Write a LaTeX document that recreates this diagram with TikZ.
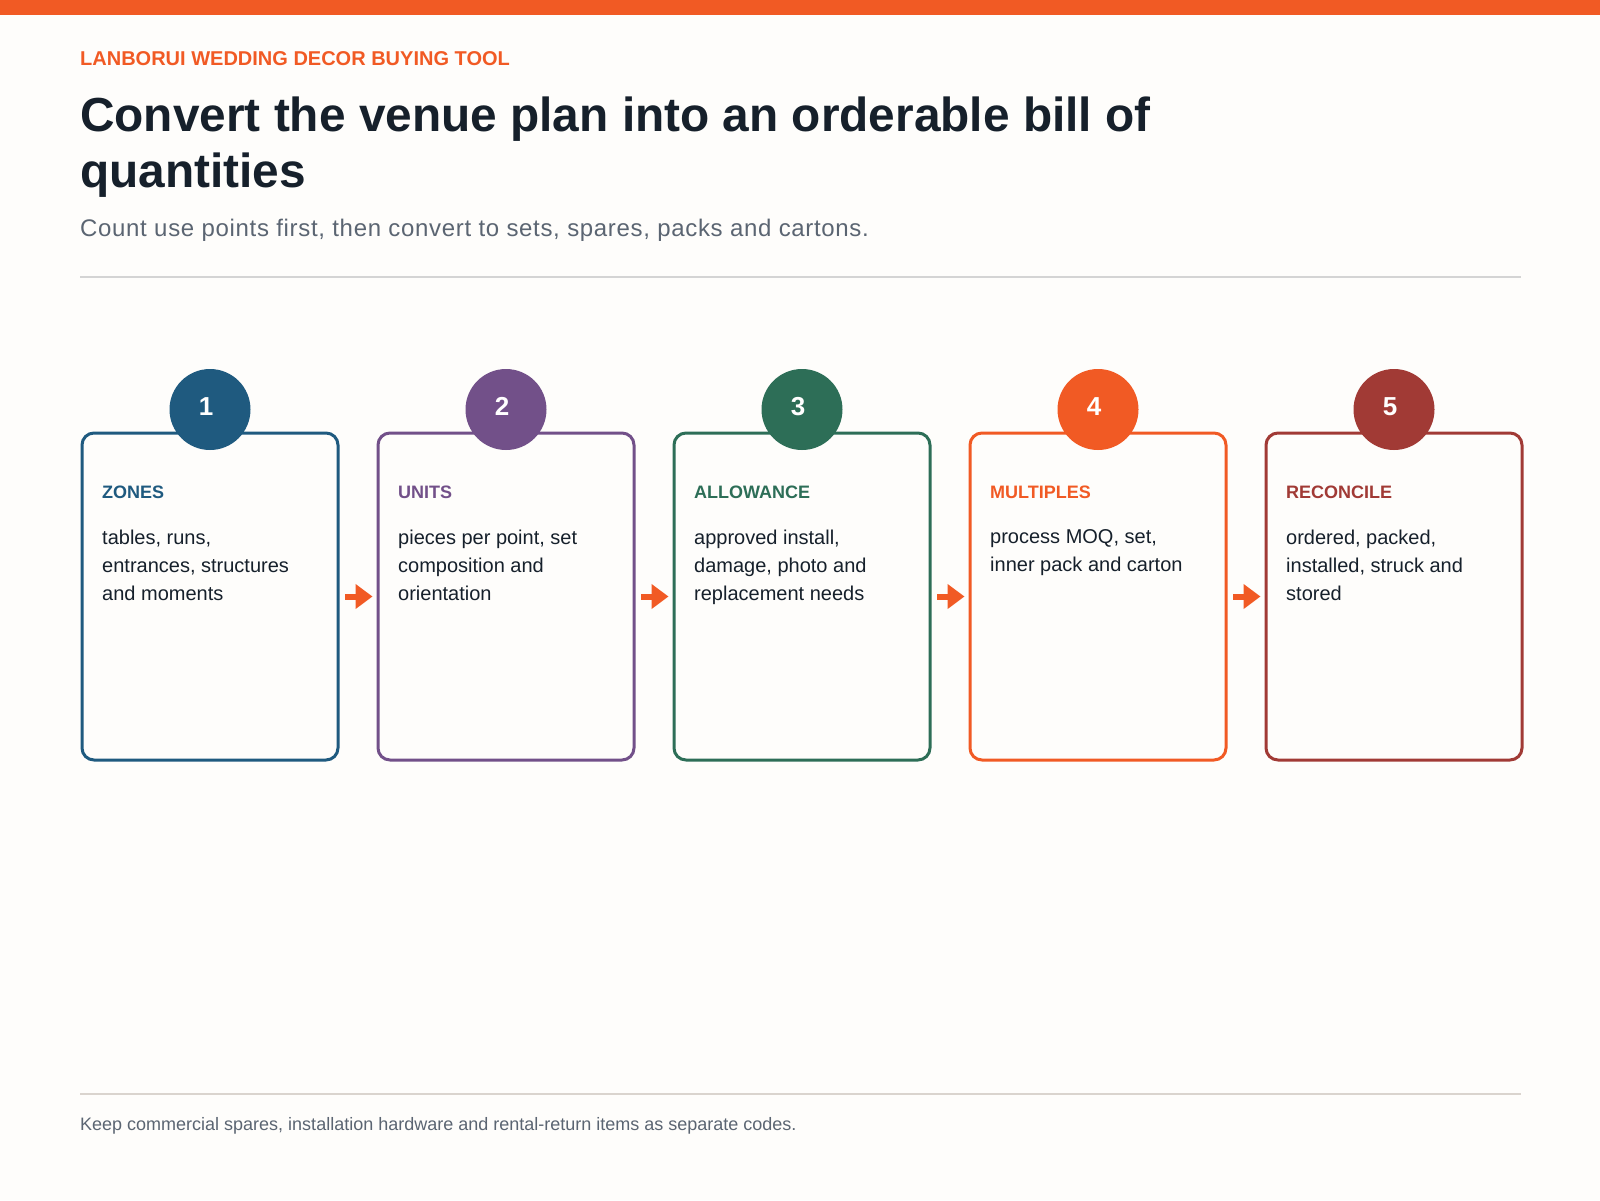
\documentclass[tikz,border=0pt]{standalone}
\usepackage{fontspec}
\setmainfont{Liberation Sans}
\newfontfamily\spacedsans[LetterSpace=2.8]{Liberation Sans}
\usetikzlibrary{arrows.meta}

\definecolor{pagebg}{HTML}{FEFDFB}
\definecolor{brandorange}{HTML}{F15A24}
\definecolor{inkdark}{HTML}{16202B}
\definecolor{inkgrey}{HTML}{5B6572}
\definecolor{rulegrey}{HTML}{D4D4D4}
\definecolor{rulesand}{HTML}{DAD4CE}
\definecolor{stepblue}{HTML}{1F5A7F}
\definecolor{steppurple}{HTML}{725089}
\definecolor{stepgreen}{HTML}{2D6E57}
\definecolor{steporange}{HTML}{F15A24}
\definecolor{stepred}{HTML}{A13A35}

\begin{document}
\begin{tikzpicture}[x=1pt,y=-1pt,
  card/.style={draw, rounded corners=12pt, line width=3pt, minimum width=256pt, minimum height=327pt, inner sep=0pt},
  badge/.style={circle, minimum size=81pt, inner sep=0pt, text=white, text depth=6pt, execute at end node=\kern8pt, font=\fontsize{26}{26}\selectfont\bfseries},
  headtext/.style={anchor=base west, inner sep=0pt, font=\fontsize{18}{22}\selectfont\bfseries},
  bodytext/.style={anchor=north west, inner sep=0pt, align=left, text=inkdark, font=\fontsize{20}{28}\selectfont},
  flowarrow/.style={brandorange, line width=6pt, -{Triangle[length=17pt,width=24pt]}, shorten <=5.5pt, shorten >=4pt}]

% page and top band
\useasboundingbox (0,0) rectangle (1600,1200);
\fill[pagebg] (0,0) rectangle (1600,1200);
\fill[brandorange] (0,0) rectangle (1600,14.7);

% header
\node[anchor=base west, inner sep=0pt, text=brandorange, font=\fontsize{20}{24}\selectfont\bfseries] (eyebrow) at (80,65) {LANBORUI WEDDING DECOR BUYING TOOL};
\node[anchor=north west, inner sep=0pt, align=left, text=inkdark, font=\fontsize{47.8}{56}\selectfont\bfseries] (title) at (80,96.9) {Convert the venue plan into an orderable bill of\\quantities};
\node[anchor=base west, inner sep=0pt, text=inkgrey, font=\spacedsans\fontsize{24}{28}\selectfont] (subtitle) at (80,236.7) {Count use points first, then convert to sets, spares, packs and cartons.};
\draw[rulegrey, line width=2pt] (80,277) -- (1521,277);

% the five steps
\foreach \i/\col/\head/\body [evaluate=\i as \cx using 210+296*(\i-1)] in {
    1/stepblue/ZONES/{tables, runs,\\entrances, structures\\and moments},
    2/steppurple/UNITS/{pieces per point, set\\composition and\\orientation},
    3/stepgreen/ALLOWANCE/{approved install,\\damage, photo and\\replacement needs},
    4/steporange/MULTIPLES/{process MOQ, set,\\inner pack and carton},
    5/stepred/RECONCILE/{ordered, packed,\\installed, struck and\\stored}} {
  \node[card, draw=\col] (card\i) at (\cx,596.5) {};
  \node[badge, fill=\col] (badge\i) at (\cx,409.5) {\i};
  \node[headtext, text=\col] (head\i) at (\cx-108,498) {\head};
  \node[bodytext] (body\i) at (\cx-108,529.4) {\body};
}

% arrows between the cards
\foreach \i [evaluate=\i as \j using int(\i+1)] in {1,...,4}
  \draw[flowarrow] (card\i.east) -- (card\j.west);

% footer
\draw[rulesand, line width=2pt] (80,1094) -- (1521,1094);
\node[anchor=base west, inner sep=0pt, text=inkgrey, font=\fontsize{18}{22}\selectfont] (footnote) at (80,1130) {Keep commercial spares, installation hardware and rental-return items as separate codes.};
\end{tikzpicture}
\end{document}
